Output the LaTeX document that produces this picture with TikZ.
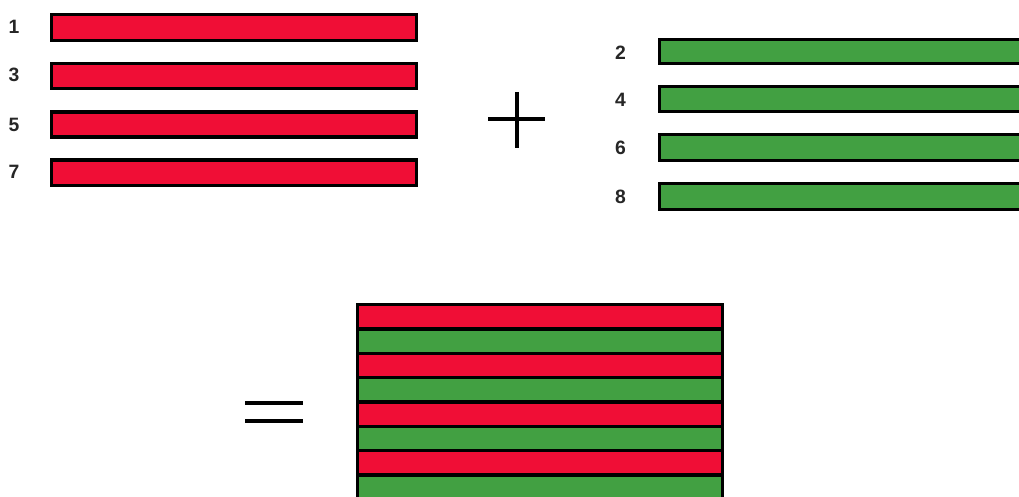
\documentclass[tikz,border=0pt]{standalone}
\usepackage{fontspec}
\setmainfont{Liberation Sans}
\usepackage{tikz}
\definecolor{bar_red}{RGB}{240,14,54}
\definecolor{bar_green}{RGB}{66,160,66}
\tikzset{
    red_bar/.style = {
        draw=black,
        line width=1.9pt,
        fill=bar_red
    },
    green_bar/.style = {
        draw=black,
        line width=1.9pt,
        fill=bar_green
    },
    sign_line/.style = {
        draw=black,
        line width=1.9pt
    },
    num_label/.style = {
        font=\fontsize{11}{13}\selectfont\bfseries,
        text=black!85,
        inner sep=0pt
    },
}
\begin{document}
\begin{tikzpicture}
                \useasboundingbox (0, 0) rectangle (20.38, 9.94);
                \clip (0, 0) rectangle (20.38, 9.94);
                \begin{scope}
                    \path[red_bar] (1.03, 9.65) rectangle (8.33, 9.13);
                    \path[red_bar] (1.03, 8.67) rectangle (8.33, 8.17);
                    \path[red_bar] (1.03, 7.70) rectangle (8.33, 7.20);
                    \path[red_bar] (1.03, 6.74) rectangle (8.33, 6.23);

                    \node[num_label] (n1) at (0.28, 9.40) {1};
                    \node[num_label] (n3) at (0.28, 8.44) {3};
                    \node[num_label] (n5) at (0.28, 7.45) {5};
                    \node[num_label] (n7) at (0.28, 6.50) {7};
                \end{scope}

                \path[sign_line] (9.76, 7.56) -- (10.90, 7.56);
                \path[sign_line] (10.34, 8.10) -- (10.34, 6.98);

                \begin{scope}
                    \path[green_bar] (13.19, 9.15) rectangle (20.60, 8.67);
                    \path[green_bar] (13.19, 8.21) rectangle (20.60, 7.71);
                    \path[green_bar] (13.19, 7.25) rectangle (20.60, 6.73);
                    \path[green_bar] (13.19, 6.27) rectangle (20.60, 5.75);

                    \node[num_label] (n2) at (12.41, 8.88) {2};
                    \node[num_label] (n4) at (12.41, 7.94) {4};
                    \node[num_label] (n6) at (12.41, 6.98) {6};
                    \node[num_label] (n8) at (12.41, 6.00) {8};
                \end{scope}

                \path[sign_line] (4.90, 1.88) -- (6.06, 1.88);
                \path[sign_line] (4.90, 1.52) -- (6.06, 1.52);

                \begin{scope}
                    \path[red_bar] (7.15, 3.85) rectangle (14.45, 3.36);
                    \path[green_bar] (7.15, 3.36) rectangle (14.45, 2.875);
                    \path[red_bar] (7.15, 2.875) rectangle (14.45, 2.39);
                    \path[green_bar] (7.15, 2.39) rectangle (14.45, 1.90);
                    \path[red_bar] (7.15, 1.90) rectangle (14.45, 1.41);
                    \path[green_bar] (7.15, 1.41) rectangle (14.45, 0.925);
                    \path[red_bar] (7.15, 0.925) rectangle (14.45, 0.44);
                    \path[green_bar] (7.15, 0.44) rectangle (14.45, -0.05);
                \end{scope}
            \end{tikzpicture}
\end{document}
